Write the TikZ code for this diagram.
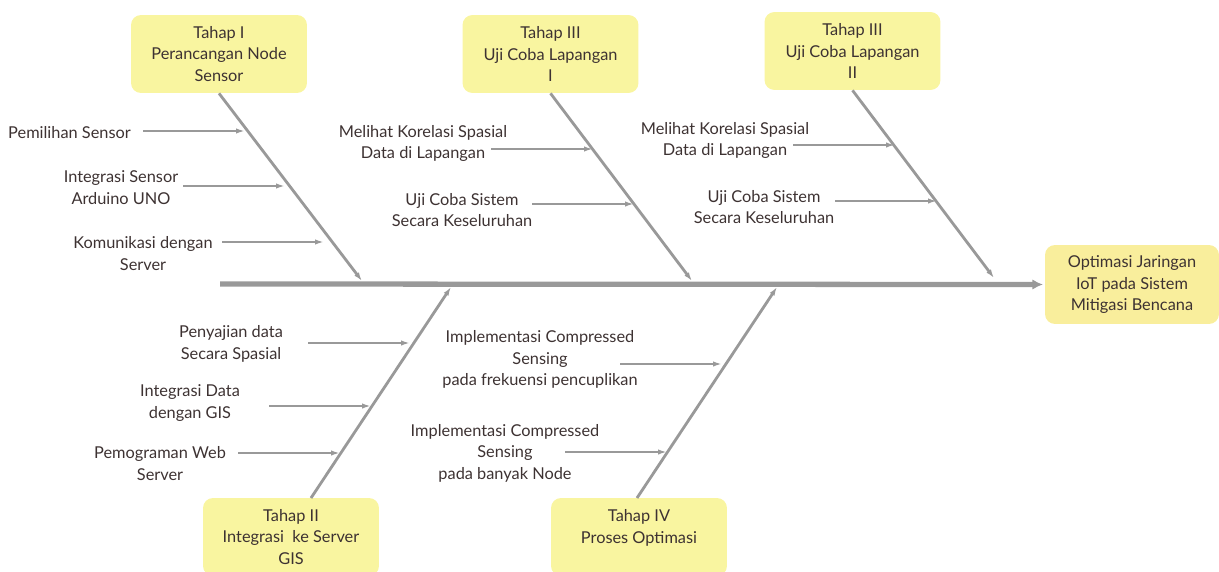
\documentclass[tikz,border=0pt]{standalone}
\usepackage{fontspec}
\setmainfont{Lato}
\usetikzlibrary{arrows.meta,calc}
\definecolor{boxfill}{HTML}{F9F5A0}
\definecolor{effill}{HTML}{F9EE9C}
\definecolor{bonecol}{HTML}{999999}
\definecolor{txtcol}{HTML}{3D3232}
\begin{document}
\begin{tikzpicture}[x=0.02cm,y=-0.02cm,
  every node/.style={font=\fontsize{9.3}{12.3}\selectfont, text=txtcol},
  lbl/.style={align=center, inner sep=0pt},
  box/.style={lbl, fill=boxfill, rounded corners=0.2cm, minimum width=3.52cm, minimum height=1.56cm},
  effbox/.style={box, fill=effill, minimum width=3.48cm, minimum height=1.58cm},
  spine/.style={draw=bonecol, line width=3pt, -{Latex[length=6pt,width=6pt]}, shorten >=1pt},
  bone/.style={draw=bonecol, line width=1.6pt, -{Latex[length=5pt,width=3.2pt]}},
  sub/.style={draw=bonecol, line width=1.4pt, -{Latex[length=5pt,width=3pt]}}]
\useasboundingbox (0,0) rectangle (1219,571);

% head and category boxes
\node[effbox] (eff) at (1132,284.5) {Optimasi Jaringan\\IoT pada Sistem\\Mitigasi Bencana};
\node[box] (t1) at (219,54) {Tahap I\\Perancangan Node\\Sensor};
\node[box] (t3a) at (550.5,54) {Tahap III\\Uji Coba Lapangan\\I};
\node[box] (t3b) at (852.5,51) {Tahap III\\Uji Coba Lapangan\\II};
\node[box] (t2) at (291,537) {Tahap II\\Integrasi\ \ ke Server\\GIS};
\node[box] (t4) at (639,537) {Tahap IV\\Proses Optimasi\\\mbox{}};

% spine
\coordinate (s0) at (220,284);
\draw[spine] (s0) -- (eff.west);

% bone ends
\coordinate (e1) at (362,281);
\coordinate (e2) at (692,281);
\coordinate (e3) at (994,278);
\coordinate (e4) at (451,287);
\coordinate (e5) at (777,287);
\coordinate (b4) at (311,498);
\coordinate (b5) at (637,498);

\draw[bone] (t1.south) -- (e1);
\draw[bone] (t3a.south) -- (e2);
\draw[bone] (t3b.south) -- (e3);
\draw[bone] (b4) -- (e4);
\draw[bone] (b5) -- (e5);

% cause labels
\node[lbl] (l1) at (69.5,132.5) {Pemilihan Sensor};
\node[lbl] (l2) at (121,187.5) {Integrasi Sensor\\Arduino UNO};
\node[lbl] (l3) at (143,253.5) {Komunikasi dengan\\Server};
\node[lbl] (l4) at (423,143.5) {Melihat Korelasi Spasial\\Data di Lapangan};
\node[lbl] (l5) at (462,210) {Uji Coba Sistem\\Secara Keseluruhan};
\node[lbl] (l6) at (725,140.5) {Melihat Korelasi Spasial\\Data di Lapangan};
\node[lbl] (l7) at (764,207) {Uji Coba Sistem\\Secara Keseluruhan};
\node[lbl] (l8) at (231,344) {Penyajian data\\Secara Spasial};
\node[lbl] (l9) at (190,403) {Integrasi Data\\dengan GIS};
\node[lbl] (l10) at (160,463.5) {Pemograman Web\\Server};
\node[lbl] (l11) at (540,359.5) {Implementasi Compressed\\Sensing\\pada frekuensi pencuplikan};
\node[lbl] (l12) at (505,453) {Implementasi Compressed\\Sensing\\pada banyak Node};

% cause arrow tips on the bones
\coordinate (a1) at (245,131);
\coordinate (a2) at (285,186);
\coordinate (a3) at (324,242);
\coordinate (a4) at (593,149);
\coordinate (a5) at (634,204);
\coordinate (a6) at (895,145);
\coordinate (a7) at (937,201);
\coordinate (a8) at (410,343);
\coordinate (a9) at (371,406);
\coordinate (a10) at (340,453);
\coordinate (a11) at (722,364);
\coordinate (a12) at (667,452);

\foreach \i in {1,...,12} {
  \draw[sub] ($(a\i)+(-102,0)$) -- (a\i);
}
\end{tikzpicture}
\end{document}
